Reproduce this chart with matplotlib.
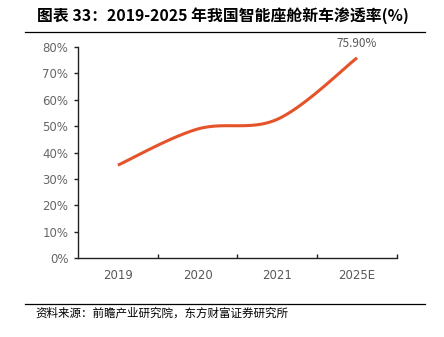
import matplotlib
matplotlib.use("Agg")
import matplotlib.pyplot as plt
import numpy as np

plt.rcParams['font.family'] = ['Noto Sans CJK SC', 'DejaVu Sans']

categories = ['2019', '2020', '2021', '2025E']
rates = [35.2, 48.9, 52.6, 75.9]
last_label = '75.90%'
title = '图表 33：2019-2025 年我国智能座舱新车渗透率(%)'
source = '资料来源：前瞻产业研究院，东方财富证券研究所'


def smooth(xs, ys, n=40):
    # catmull-rom style smoothing like office charts
    xs = np.asarray(xs, float)
    ys = np.asarray(ys, float)
    px = np.concatenate([[xs[0]], xs, [xs[-1]]])
    py = np.concatenate([[ys[0]], ys, [ys[-1]]])
    out_x, out_y = [], []
    for i in range(1, len(px) - 2):
        p0, p1, p2, p3 = (np.array([px[j], py[j]]) for j in range(i - 1, i + 3))
        c1 = p1 + (p2 - p0) / 6
        c2 = p2 - (p3 - p1) / 6
        t = np.linspace(0, 1, n)[:, None]
        b = (1 - t) ** 3 * p1 + 3 * (1 - t) ** 2 * t * c1 + 3 * (1 - t) * t ** 2 * c2 + t ** 3 * p2
        out_x.extend(b[:, 0])
        out_y.extend(b[:, 1])
    return out_x, out_y


fig = plt.figure(figsize=(4.44, 3.37), dpi=100)
ax = fig.add_axes([0.1757, 0.2344, 0.7183, 0.6261])

x = np.arange(len(categories))
sx, sy = smooth(x, rates)
ax.plot(sx, sy, color='#E5532B', lw=2.2, solid_capstyle='butt')
ax.text(x[-1], rates[-1] + 3, last_label, ha='center', va='bottom', fontsize=8.5, color='#595959')

ax.set_xlim(-0.5, len(categories) - 0.5)
ax.set_ylim(0, 80)
ax.set_yticks(np.arange(0, 81, 10))
ax.set_yticklabels([f'{v}%' for v in range(0, 81, 10)], family='DejaVu Sans')
ax.set_xticks(x)
ax.set_xticklabels(categories, family='DejaVu Sans')
ax.set_xticks(np.arange(len(categories)) + 0.5, minor=True)
ax.tick_params(axis='x', which='major', length=0, pad=8, labelsize=8.5, colors='#595959')
ax.tick_params(axis='x', which='minor', direction='in', length=3, width=1, color='#222222')
ax.tick_params(axis='y', direction='out', length=3, width=1, color='#222222', labelsize=8.5, labelcolor='#666666', pad=4)
for s in ['top', 'right']:
    ax.spines[s].set_visible(False)
for s in ['left', 'bottom']:
    ax.spines[s].set_color('#222222')
    ax.spines[s].set_linewidth(1)

fig.text(0.083, 0.955, title, fontsize=11.4, fontweight='bold', ha='left', va='center')
fig.add_artist(plt.Line2D([0.056, 0.957], [0.905, 0.905], color='black', lw=0.9))
fig.add_artist(plt.Line2D([0.056, 0.957], [0.098, 0.098], color='black', lw=0.9))
fig.text(0.079, 0.071, source, fontsize=8.3, ha='left', va='center')

fig.savefig('out.png', dpi=100)
